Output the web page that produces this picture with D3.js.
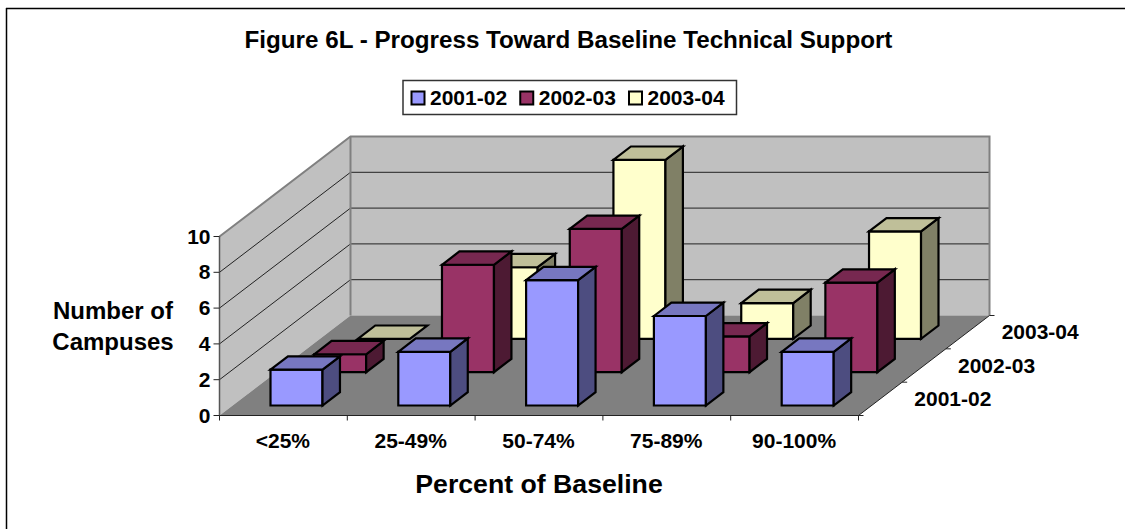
<!DOCTYPE html>
<html>
<head>
<meta charset="utf-8">
<script src="https://d3js.org/d3.v7.min.js"></script>
<style>
  html, body { margin: 0; padding: 0; background: #fff; }
  svg { display: block; }
  text { font-family: "Liberation Sans", Arial, sans-serif; font-weight: bold; fill: #000; }
</style>
</head>
<body>
<div id="chart"></div>
<script>
var categories = ["<25%", "25-49%", "50-74%", "75-89%", "90-100%"];
var seriesNames = ["2001-02", "2002-03", "2003-04"];
var values2001 = [2, 3, 7, 5, 3];
var values2002 = [1, 6, 8, 2, 5];
var values2003 = [0, 4, 10, 2, 6];
var valueTicks = [0, 2, 4, 6, 8, 10];

var seriesValues = [values2001, values2002, values2003];
var fills = ["#9999FF", "#993366", "#FFFFCC"];
var tops = ["#7777C0", "#772850", "#BFBF99"];
var sides = ["#4D4D80", "#4D1A33", "#808066"];

var svg = d3.select("#chart")
    .append("svg")
    .attr("width", 1125)
    .attr("height", 529);

// frame only shows along the top and left of the crop
svg.append("line")
    .attr("x1", 6).attr("y1", 8.5).attr("x2", 1125).attr("y2", 8.5)
    .attr("stroke", "#000").attr("stroke-width", 1.5);
svg.append("line")
    .attr("x1", 6.5).attr("y1", 8).attr("x2", 6.5).attr("y2", 529)
    .attr("stroke", "#000").attr("stroke-width", 1.5);

// oblique projection: front edge of the floor plus a depth vector
var depthX = 131, depthY = -100;
var x = d3.scaleBand().domain(categories).range([219.5, 858.5]);
var y = d3.scaleLinear().domain([0, 10]).range([415.5, 236.5]);
var z = d3.scaleBand().domain(seriesNames).range([0, 1]);

function pt(px, v, d) {
  return [px + d * depthX, y(v) + d * depthY];
}
function poly(g, pts, fill, stroke, sw) {
  return g.append("polygon")
    .attr("points", pts.map(function(p) { return p.join(","); }).join(" "))
    .attr("fill", fill)
    .attr("stroke", stroke)
    .attr("stroke-width", sw)
    .attr("stroke-linejoin", "miter");
}

var x0 = x.range()[0], x1 = x.range()[1];

// walls and floor
var walls = svg.append("g");
poly(walls, [pt(x0, 0, 0), pt(x0, 10, 0), pt(x0, 10, 1), pt(x0, 0, 1)], "#C0C0C0", "none", 0);
poly(walls, [pt(x0, 0, 1), pt(x0, 10, 1), pt(x1, 10, 1), pt(x1, 0, 1)], "#C0C0C0", "none", 0);
poly(walls, [pt(x0, 0, 0), pt(x0, 0, 1), pt(x1, 0, 1), pt(x1, 0, 0)], "#808080", "none", 0);

// gridlines
valueTicks.slice(1, -1).forEach(function(t) {
  var a = pt(x0, t, 0), b = pt(x0, t, 1), c = pt(x1, t, 1);
  walls.append("polyline")
    .attr("points", [a, b, c].map(function(p) { return p.join(","); }).join(" "))
    .attr("fill", "none").attr("stroke", "#222").attr("stroke-width", 1);
});

// wall edges
walls.append("polyline")
    .attr("points", [pt(x0, 10, 0), pt(x0, 10, 1), pt(x1, 10, 1), pt(x1, 0, 1)].map(function(p) { return p.join(","); }).join(" "))
    .attr("fill", "none").attr("stroke", "#808080").attr("stroke-width", 2);
walls.append("line")
    .attr("x1", pt(x0, 0, 1)[0]).attr("y1", pt(x0, 0, 1)[1])
    .attr("x2", pt(x0, 10, 1)[0]).attr("y2", pt(x0, 10, 1)[1])
    .attr("stroke", "#808080").attr("stroke-width", 2);

// axes: value on the left, category along the front, series along the right
var axes = svg.append("g");
axes.append("line")
    .attr("x1", x0).attr("y1", y(0)).attr("x2", x0).attr("y2", y(10))
    .attr("stroke", "#555").attr("stroke-width", 1.5);
axes.append("line")
    .attr("x1", x0).attr("y1", y(0)).attr("x2", x1).attr("y2", y(0))
    .attr("stroke", "#222").attr("stroke-width", 1);
axes.append("line")
    .attr("x1", x1).attr("y1", y(0)).attr("x2", x1 + depthX).attr("y2", y(0) + depthY)
    .attr("stroke", "#222").attr("stroke-width", 1);

valueTicks.forEach(function(t) {
  axes.append("line")
    .attr("x1", x0 - 6).attr("y1", y(t)).attr("x2", x0).attr("y2", y(t))
    .attr("stroke", "#222");
  axes.append("text")
    .attr("x", x0 - 9).attr("y", y(t) + 7)
    .attr("text-anchor", "end").attr("font-size", 21)
    .text(t);
});

categories.forEach(function(c) {
  axes.append("text")
    .attr("x", x(c) + x.bandwidth() / 2 - 0.5).attr("y", 447.5)
    .attr("text-anchor", "middle").attr("font-size", 21)
    .text(c);
});
d3.range(categories.length + 1).forEach(function(i) {
  var px = x0 + i * x.step();
  axes.append("line")
    .attr("x1", px).attr("y1", y(0)).attr("x2", px).attr("y2", y(0) + 5)
    .attr("stroke", "#222");
});

d3.range(seriesNames.length + 1).forEach(function(i) {
  var p = pt(x1, 0, i / seriesNames.length);
  axes.append("line")
    .attr("x1", p[0]).attr("y1", p[1]).attr("x2", p[0] + 5).attr("y2", p[1])
    .attr("stroke", "#222");
});
seriesNames.forEach(function(s) {
  var d = z(s) + z.bandwidth() / 2;
  var p = pt(x1, 0, d);
  axes.append("text")
    .attr("x", p[0] + 34).attr("y", p[1] + 7)
    .attr("font-size", 21)
    .text(s);
});

// bars, back series first so the nearer ones paint over them
var bars = svg.append("g");
var barPad = 0.3, barW = 52;
d3.range(seriesNames.length - 1, -1, -1).forEach(function(si) {
  var s = seriesNames[si];
  var dA = z(s) + z.bandwidth() * barPad;
  var dB = z(s) + z.bandwidth() * (1 - barPad);
  categories.forEach(function(c, ci) {
    var v = seriesValues[si][ci];
    var l = x(c) + (x.bandwidth() - barW) / 2;
    var r = l + barW;
    var g = bars.append("g");
    if (v > 0) {
      poly(g, [pt(l, 0, dA), pt(l, v, dA), pt(r, v, dA), pt(r, 0, dA)], fills[si], "#000", 2.2);
      poly(g, [pt(r, 0, dA), pt(r, v, dA), pt(r, v, dB), pt(r, 0, dB)], sides[si], "#000", 2.2);
    }
    poly(g, [pt(l, v, dA), pt(l, v, dB), pt(r, v, dB), pt(r, v, dA)], tops[si], "#000", 2.2);
  });
});

// titles
svg.append("text")
    .attr("x", 568.5).attr("y", 47.5)
    .attr("text-anchor", "middle").attr("font-size", 24.2)
    .text("Figure 6L - Progress Toward Baseline Technical Support");
svg.append("text")
    .attr("x", 539).attr("y", 493)
    .attr("text-anchor", "middle").attr("font-size", 26.67)
    .text("Percent of Baseline");
svg.append("text")
    .attr("x", 113).attr("y", 318.5)
    .attr("text-anchor", "middle").attr("font-size", 24)
    .text("Number of");
svg.append("text")
    .attr("x", 113).attr("y", 349.5)
    .attr("text-anchor", "middle").attr("font-size", 24)
    .text("Campuses");

// legend
var legend = svg.append("g");
legend.append("rect")
    .attr("x", 403).attr("y", 80.5).attr("width", 333.5).attr("height", 34)
    .attr("fill", "#fff").attr("stroke", "#333").attr("stroke-width", 1.5);
var legendX = d3.scalePoint().domain(seriesNames).range([411.5, 629]);
seriesNames.forEach(function(s, i) {
  legend.append("rect")
    .attr("x", legendX(s)).attr("y", 91.5)
    .attr("width", 13).attr("height", 13)
    .attr("fill", fills[i]).attr("stroke", "#000").attr("stroke-width", 2);
  legend.append("text")
    .attr("x", legendX(s) + 18.5).attr("y", 105)
    .attr("font-size", 21)
    .text(s);
});
</script>
</body>
</html>
